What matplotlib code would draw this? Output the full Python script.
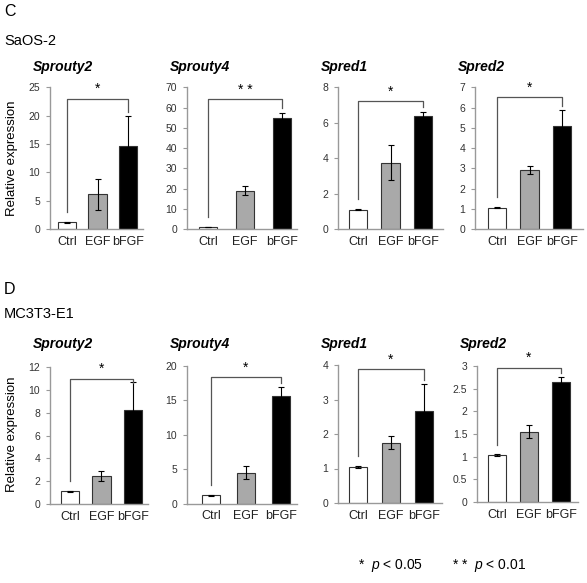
import matplotlib
matplotlib.use("Agg")
import matplotlib.pyplot as plt
import numpy as np

plt.rcParams['font.family'] = ['Liberation Sans', 'DejaVu Sans']
plt.rcParams['mathtext.fontset'] = 'custom'
plt.rcParams['mathtext.it'] = 'Liberation Sans:italic'
plt.rcParams['mathtext.rm'] = 'Liberation Sans'

# ---- data ----
conditions = ["Ctrl", "EGF", "bFGF"]
genes = ["Sprouty2", "Sprouty4", "Spred1", "Spred2"]
bar_colors = ["white", "#a9a9a9", "black"]

saos_means = [[1.2, 6.1, 14.7], [1.0, 18.9, 55.0], [1.1, 3.75, 6.38], [1.05, 2.93, 5.1]]
saos_errs = [[0.1, 2.7, 5.2], [0.1, 2.2, 2.5], [0.05, 0.97, 0.24], [0.03, 0.2, 0.78]]
saos_ymax = [25, 70, 8, 7]
saos_step = [5, 10, 2, 1]
saos_sig = ["*", "* *", "*", "*"]
saos_bracket = [23.0, 64.0, 7.2, 6.5]

mc3t3_means = [[1.1, 2.45, 8.25], [1.2, 4.5, 15.6], [1.05, 1.75, 2.66], [1.03, 1.55, 2.65]]
mc3t3_errs = [[0.05, 0.4, 2.4], [0.05, 0.9, 1.4], [0.03, 0.18, 0.79], [0.02, 0.14, 0.1]]
mc3t3_ymax = [12, 20, 4, 3]
mc3t3_step = [2, 5, 1, 0.5]
mc3t3_sig = ["*", "*", "*", "*"]
mc3t3_bracket = [10.95, 18.35, 3.87, 2.96]

W, H = 587, 583
fig = plt.figure(figsize=(W / 100, H / 100), dpi=100)

# pixel layout: left, right, bottom, top, ctrl bar centre, bar spacing
top_boxes = [(50, 143, 229, 87.3, 67, 30.5), (187, 297, 229, 87.3, 208, 37),
             (338, 443, 229, 87.3, 358, 32.5), (475, 583, 229, 87.3, 497, 32.5)]
bot_boxes = [(50, 148, 504, 367, 70, 31.5), (187, 297, 503.5, 366, 211, 35),
             (338, 442, 503, 365, 358, 33), (477, 578, 502, 366, 497, 32)]


def draw_panel(box, gene, means, errs, ymax, step, sig, brk, title_y):
    l, r, b, t, c0, sp = box
    ax = fig.add_axes([l / W, 1 - b / H, (r - l) / W, (b - t) / H])
    x = np.arange(3)
    ax.bar(x, means, width=18.5 / sp, color=bar_colors, edgecolor="#333333",
           linewidth=0.8, zorder=2)
    ax.errorbar(x, means, yerr=errs, fmt="none", ecolor="black", elinewidth=0.8,
                capsize=2.2, capthick=0.8, zorder=3)
    ax.set_xlim(-(c0 - l) / sp, (r - c0) / sp)
    ax.set_ylim(0, ymax)
    ticks = np.arange(0, ymax + step / 2, step)
    ax.set_yticks(ticks)
    ax.set_yticklabels([("%g" % v) for v in ticks], fontsize=7.5, color="#333333")
    ax.set_xticks(x)
    ax.set_xticklabels(conditions, fontsize=9, color="#222222")
    ax.tick_params(axis="x", length=0, pad=5)
    ax.tick_params(axis="y", length=3, width=0.8, color="#999999", pad=4)
    for s in ["top", "right"]:
        ax.spines[s].set_visible(False)
    for s in ["left", "bottom"]:
        ax.spines[s].set_color("#999999")
        ax.spines[s].set_linewidth(1.0)
    # significance bracket
    left_end = means[0] + errs[0] + 0.07 * ymax
    right_end = min(means[2] + errs[2] + 0.03 * ymax, brk - 0.03 * ymax)
    ax.plot([0, 0, 2, 2], [left_end, brk, brk, right_end], color="#555555",
            lw=0.9, clip_on=False, zorder=4)
    ax.text(1, brk + 0.02 * ymax, sig, ha="center", va="bottom", fontsize=10,
            clip_on=False)
    # gene title
    fig.text((l - 17) / W, 1 - title_y / H, gene, fontsize=10, fontweight="bold",
             fontstyle="italic", ha="left", va="center")
    return ax


for i in range(4):
    draw_panel(top_boxes[i], genes[i], saos_means[i], saos_errs[i], saos_ymax[i],
               saos_step[i], saos_sig[i], saos_bracket[i], 67)
    draw_panel(bot_boxes[i], genes[i], mc3t3_means[i], mc3t3_errs[i], mc3t3_ymax[i],
               mc3t3_step[i], mc3t3_sig[i], mc3t3_bracket[i], 344)

# panel letters and cell lines
fig.text(4 / W, 1 - 12 / H, "C", fontsize=11.5, ha="left", va="center")
fig.text(4 / W, 1 - 41 / H, "SaOS-2", fontsize=10.5, ha="left", va="center")
fig.text(4 / W, 1 - 289 / H, "D", fontsize=11.5, ha="left", va="center")
fig.text(4 / W, 1 - 314 / H, "MC3T3-E1", fontsize=10.5, ha="left", va="center")

# y labels
fig.text(12 / W, 1 - 158 / H, "Relative expression", fontsize=9.5, rotation=90,
         ha="center", va="center")
fig.text(12 / W, 1 - 434 / H, "Relative expression", fontsize=9.5, rotation=90,
         ha="center", va="center")

# significance legend
fig.text(358 / W, 1 - 566 / H, r"*  $p$ < 0.05", fontsize=10, ha="left", va="center")
fig.text(452 / W, 1 - 566 / H, r"* *  $p$ < 0.01", fontsize=10, ha="left", va="center")

fig.savefig("out.png", dpi=100)
